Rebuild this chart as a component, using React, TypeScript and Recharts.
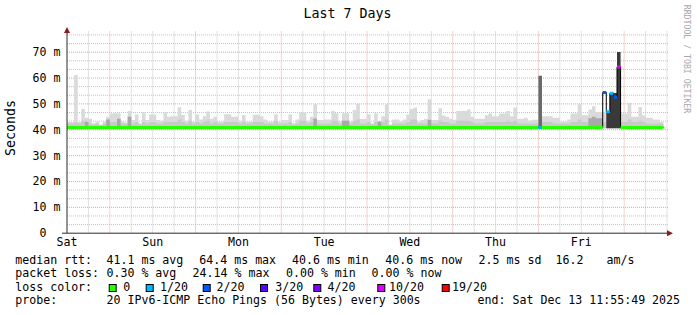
import React from 'react'
import { ComposedChart, Area, Line, XAxis, YAxis, CartesianGrid, ReferenceLine, ReferenceDot } from 'recharts'

// x = hours since Sat 12:00, hourly consolidated smoke
const SEG_START = [
  0, 2, 3, 4, 5, 6, 7, 8, 9, 10, 11, 12, 13, 14, 15, 16, 17, 18, 19, 20, 21, 22, 23,
  25, 26, 27, 28, 29, 31, 32, 33, 34, 35, 36, 37, 38, 39, 40, 41, 42, 44, 46,
  48, 49, 50, 52, 54, 55, 56, 58, 59, 60, 62, 63, 64, 65, 67, 68, 69, 70,
  72, 74, 75, 76, 77, 79, 80, 81, 82, 84, 85, 86, 87, 88, 89, 90, 91, 93, 94, 95,
  96, 97, 98, 99, 100, 101, 102, 104, 105, 106, 107, 108, 109, 112, 113, 114, 117, 118, 119,
  121, 123, 124, 125, 126, 128, 129, 130, 132, 133, 136, 138, 140, 141, 142, 143,
  144, 146, 147, 148, 150, 151, 152, 153, 154, 155, 157, 158, 160, 161, 162, 164, 166,
]
const SMOKE_HI = [
  43, 61.2, 43, 48, 44.6, 44.3, 42.5, 43.2, 42, 43.2, 45, 46.3, 46.4, 46.4, 43.2, 42.8, 47.3, 43.8, 45.9, 42.5, 46.8, 43.8, 45.9,
  43.8, 43.5, 46.8, 45, 45.2, 48.7, 45.7, 43.5, 47.6, 43.2, 45.9, 44, 45.2, 47.1, 44.3, 45, 43.2, 46, 45,
  43.5, 45.7, 43.2, 45.8, 45.2, 44, 43.2, 46, 43.2, 43.8, 45.9, 42.5, 44, 46.8, 43.5, 45, 49.9, 43.8,
  44, 47.3, 46.4, 43.2, 46.4, 43.2, 47.6, 50.1, 44.2, 46, 42.5, 46.4, 43.2, 45.2, 49.9, 42, 44, 43.2, 44, 45.9,
  48, 48.6, 43.2, 43.8, 44.3, 51.8, 43.8, 48.3, 45.5, 45, 44.3, 43.9, 47.3, 47.8, 45, 44.3, 45.6, 46.3, 45.2,
  46.3, 47.3, 45.2, 48.6, 44.3, 44.6, 43.6, 43.9, 60.9, 45.2, 44.6, 43.2, 44, 46.3, 46.3, 49.9,
  45.6, 47.8, 49.1, 46.9, 47, 47, 46.5, 46.5, 46.5, 46.3, 50.4, 45, 48.8, 45.5, 44.6, 44, 43,
]
const SMOKE_MID = [
  42.4, 42.8, 42.4, 43.5, 43.5, 42.4, 42, 42.4, 41.8, 42.4, 44, 43, 43, 44.3, 42.4, 42.4, 45, 42.4, 43, 42, 43, 42.4, 43,
  42.4, 42.4, 43, 43, 43, 44, 43, 42.4, 43.5, 42.4, 43, 42.4, 43, 43.5, 42.4, 43, 42.4, 43, 43,
  42.4, 43, 42.4, 43, 43, 42.4, 42.4, 43.5, 42.4, 42.4, 43, 42, 42.4, 43.5, 42.4, 43, 44.5, 42.4,
  42.4, 43.5, 43.5, 42.4, 43.5, 42.4, 43.5, 44, 42.4, 43, 42, 43, 42.4, 43, 44, 41.8, 42.4, 42.4, 42.4, 43,
  44, 44, 42.4, 42.4, 42.4, 44, 42.4, 43.5, 43, 43, 42.4, 42.4, 43.5, 43.5, 43, 42.4, 43, 43, 43,
  43, 43.5, 43, 43.5, 42.4, 42.4, 42.4, 42.4, 43, 43, 42.4, 42.4, 42.4, 43, 43, 44,
  43, 44, 44.5, 44, 43, 43, 43, 43, 43, 43, 44, 43, 43.5, 43, 42.4, 42.4, 42.4,
]
const DARK_AT = [5, 11, 14, 17, 69, 77, 87, 101, 146, 147, 148]
const DARK_TOP = [43, 44, 44.3, 45, 44.3, 43.5, 43.2, 43.8, 44.5, 45, 44.5]
const BURST_AT = [132]
const BURST_TOP = [60.9]
const HEAVY_AT = [151, 152, 153, 154]
const HEAVY_TOP = [47, 54.1, 54.2, 70.1]
const LOSS_AT = [132, 150, 151, 152, 153, 154]
const LOSS_MEDIAN = [40.8, 54.4, 47, 54.1, 52.6, 64.3]
const LOSS_COUNT = [1, 2, 1, 1, 2, 10]
const MEDIAN_RTT = 40.85
const SMOKE_FLOOR = 40.6
const DATA_END = 167

const DAY_TICKS = [0, 24, 48, 72, 96, 120, 144]
const DAY_LABELS = ['Sat', 'Sun', 'Mon', 'Tue', 'Wed', 'Thu', 'Fri']
const MIDNIGHTS = [12, 36, 60, 84, 108, 132, 156]
const SIX_HOURS = [6, 18, 24, 30, 42, 48, 54, 66, 72, 78, 90, 96, 102, 114, 120, 126, 138, 144, 150, 162, 168]
const Y_MAJOR = [0, 10, 20, 30, 40, 50, 60, 70]
const Y_MINOR = [3.33, 6.67, 13.33, 16.67, 23.33, 26.67, 33.33, 36.67, 43.33, 46.67, 53.33, 56.67, 63.33, 66.67, 73.33, 76.67]

const LOSS_LEVELS = [0, 1, 2, 3, 4, 10, 19]
const LOSS_LABELS = ['0', '1/20', '2/20', '3/20', '4/20', '10/20', '19/20']
const LOSS_COLORS = ['#26ff00', '#00b8ff', '#0059ff', '#5e00ff', '#7e00ff', '#dd00ff', '#ff0000']

const RTT_STATS = ['41.1 ms avg', '64.4 ms max', '40.6 ms min', '40.6 ms now', '2.5 ms sd', '16.2', 'am/s']
const LOSS_STATS = ['0.30 % avg', '24.14 % max', '0.00 % min', '0.00 % now']
const PROBE = '20 IPv6-ICMP Echo Pings (56 Bytes) every 300s'
const END_TIME = 'end: Sat Dec 13 11:55:49 2025'

// legend layout
const RTT_X = [106.5, 199.3, 292, 385.3, 478.6, 555.6, 606.5]
const LOSS_X = [106.5, 192.6, 286, 371.6]
const BOX_X = [108.7, 145.7, 202.7, 260, 313.3, 377.3, 441.7]
const BOX_LABEL_X = [123.3, 160, 216.6, 275.3, 327.6, 389, 452]

const MONO = '"DejaVu Sans Mono", monospace'
const GRID = '#c4c4c4'
const MGRID = '#e6a2a2'
const AXIS = '#2a2a2a'
const ARROW = '#8b1a1a'

const pick = (at: number[], vals: number[], h: number) => {
  const k = at.indexOf(h)
  return k < 0 ? SMOKE_FLOOR : vals[k]
}

const rows = SEG_START.flatMap((h, i) => {
  const end = i + 1 < SEG_START.length ? SEG_START[i + 1] : DATA_END
  const li = LOSS_AT.indexOf(h)
  const r = {
    hi: SMOKE_HI[i],
    mid: SMOKE_MID[i],
    dark: pick(DARK_AT, DARK_TOP, h),
    burst: pick(BURST_AT, BURST_TOP, h),
    heavy: pick(HEAVY_AT, HEAVY_TOP, h),
    med: li < 0 ? MEDIAN_RTT : LOSS_MEDIAN[li],
    loss: li < 0 ? 0 : LOSS_COUNT[li],
  }
  return [{ x: h, ...r }, { x: end, ...r }]
})

const lossSegments = LOSS_AT.map((h, i) => {
  const j = SEG_START.indexOf(h)
  const end = j + 1 < SEG_START.length ? SEG_START[j + 1] : DATA_END
  const color = LOSS_COLORS[LOSS_LEVELS.indexOf(LOSS_COUNT[i])]
  return { color, data: [{ x: h, v: LOSS_MEDIAN[i] }, { x: end, v: LOSS_MEDIAN[i] }] }
})

const XTick = ({ x, payload }: any) => (
  <text x={x} y={246} textAnchor="middle" fontSize={11.6} fontFamily={MONO} fill="#000">
    {DAY_LABELS[DAY_TICKS.indexOf(payload.value)]}
  </text>
)

const YTick = ({ y, payload }: any) => (
  <text x={60.5} y={y} dy={4} textAnchor="end" fontSize={11.6} fontFamily={MONO} fill="#000" xmlSpace="preserve">
    {payload.value === 0 ? '0  ' : `${payload.value} m`}
  </text>
)

const ArrowUp = ({ cx, cy }: any) => (
  <polygon points={`${cx - 3},${cy + 3} ${cx},${cy - 3} ${cx + 3},${cy + 3}`} fill={ARROW} />
)
const ArrowRight = ({ cx, cy }: any) => (
  <polygon points={`${cx - 3},${cy - 3} ${cx + 3},${cy} ${cx - 3},${cy + 3}`} fill={ARROW} />
)

const txt = { fontFamily: MONO, fontSize: 11.6, fill: '#000' }

export default function App() {
  return (
    <div style={{ position: 'relative', width: 697, height: 315, background: '#fff', overflow: 'hidden' }}>
      <style>{'body{margin:0}'}</style>
      <ComposedChart
        width={697}
        height={315}
        data={rows}
        margin={{ top: 31.5, right: 28, bottom: 0, left: 0 }}
      >
        {/* rrdtool grid sits under the graph */}
        <CartesianGrid horizontalValues={Y_MINOR} verticalValues={SIX_HOURS} stroke={GRID} strokeDasharray="1 1" />
        <CartesianGrid horizontalValues={Y_MAJOR.filter(v => v > 0)} verticalValues={MIDNIGHTS} stroke={MGRID} strokeDasharray="1 1" />
        <XAxis
          dataKey="x"
          type="number"
          domain={[0, 168.56]}
          ticks={DAY_TICKS}
          interval={0}
          height={81.8}
          axisLine={false}
          tickLine={false}
          tick={<XTick />}
          allowDuplicatedCategory
        />
        <YAxis
          type="number"
          domain={[0, 78]}
          ticks={Y_MAJOR}
          interval={0}
          width={67}
          axisLine={false}
          tickLine={false}
          tick={<YTick />}
        />

        <Area type="linear" dataKey={(d: any) => [SMOKE_FLOOR, d.hi]} stroke="none" fill="#dadada" fillOpacity={1} isAnimationActive={false} />
        <Area type="linear" dataKey={(d: any) => [SMOKE_FLOOR, d.mid]} stroke="none" fill="#c9c9c9" fillOpacity={1} isAnimationActive={false} />
        <Area type="linear" dataKey={(d: any) => [SMOKE_FLOOR, d.dark]} stroke="none" fill="#a9a9a9" fillOpacity={1} isAnimationActive={false} />
        <Area type="linear" dataKey={(d: any) => [SMOKE_FLOOR, d.burst]} stroke="none" fill="#6a6a6a" fillOpacity={1} isAnimationActive={false} />
        <Area type="linear" dataKey={(d: any) => [SMOKE_FLOOR, d.heavy]} stroke="none" fill="#393939" fillOpacity={1} isAnimationActive={false} />

        <Line type="linear" dataKey="med" stroke="#000" strokeWidth={1} dot={false} isAnimationActive={false} />
        <Line type="linear" dataKey={(d: any) => (d.loss === 0 ? d.med : null)} stroke={LOSS_COLORS[0]} strokeWidth={3} dot={false} isAnimationActive={false} />
        {lossSegments.map((s, i) => (
          <Line key={'loss' + i} data={s.data} type="linear" dataKey="v" stroke={s.color} strokeWidth={3} dot={false} isAnimationActive={false} />
        ))}

        <ReferenceLine segment={[{ x: -1.4, y: 0 }, { x: 168.3, y: 0 }]} stroke={AXIS} ifOverflow="visible" />
        <ReferenceLine segment={[{ x: 0, y: 0 }, { x: 0, y: 78.2 }]} stroke={AXIS} ifOverflow="visible" />
        <ReferenceDot x={168.84} y={0} r={3} ifOverflow="visible" shape={<ArrowRight />} />
        <ReferenceDot x={0} y={78.6} r={3} ifOverflow="visible" shape={<ArrowUp />} />
      </ComposedChart>

      <svg width={697} height={315} style={{ position: 'absolute', left: 0, top: 0, pointerEvents: 'none' }}>
        <text x={347.5} y={18} textAnchor="middle" fontFamily={MONO} fontSize={13.3} fill="#000">Last 7 Days</text>
        <text x={10.5} y={128} textAnchor="middle" dominantBaseline="central" fontFamily={MONO} fontSize={13.3} fill="#000"
          transform="rotate(-90 10.5 128)">Seconds</text>
        <text x={687} y={59} textAnchor="middle" dominantBaseline="central" fontFamily={MONO} fontSize={8.2} fill="#a8a8a8"
          transform="rotate(90 687 59)">RRDTOOL / TOBI OETIKER</text>

        <text x={15.3} y={263.5} {...txt}>median rtt:</text>
        {RTT_STATS.map((s, i) => <text key={'r' + i} x={RTT_X[i]} y={263.5} {...txt}>{s}</text>)}

        <text x={15.3} y={277} {...txt}>packet loss:</text>
        {LOSS_STATS.map((s, i) => <text key={'l' + i} x={LOSS_X[i]} y={277} {...txt}>{s}</text>)}

        <text x={15.3} y={291} {...txt}>loss color:</text>
        {LOSS_LABELS.map((s, i) => (
          <g key={'c' + i}>
            <rect x={BOX_X[i] + 0.5} y={284.5} width={7} height={7} fill={LOSS_COLORS[i]} stroke="#000" strokeWidth={1} />
            <text x={BOX_LABEL_X[i]} y={291} {...txt}>{s}</text>
          </g>
        ))}

        <text x={15.3} y={304} {...txt}>probe:</text>
        <text x={106.5} y={304} {...txt}>{PROBE}</text>
        <text x={477.6} y={304} {...txt}>{END_TIME}</text>
      </svg>
    </div>
  )
}
